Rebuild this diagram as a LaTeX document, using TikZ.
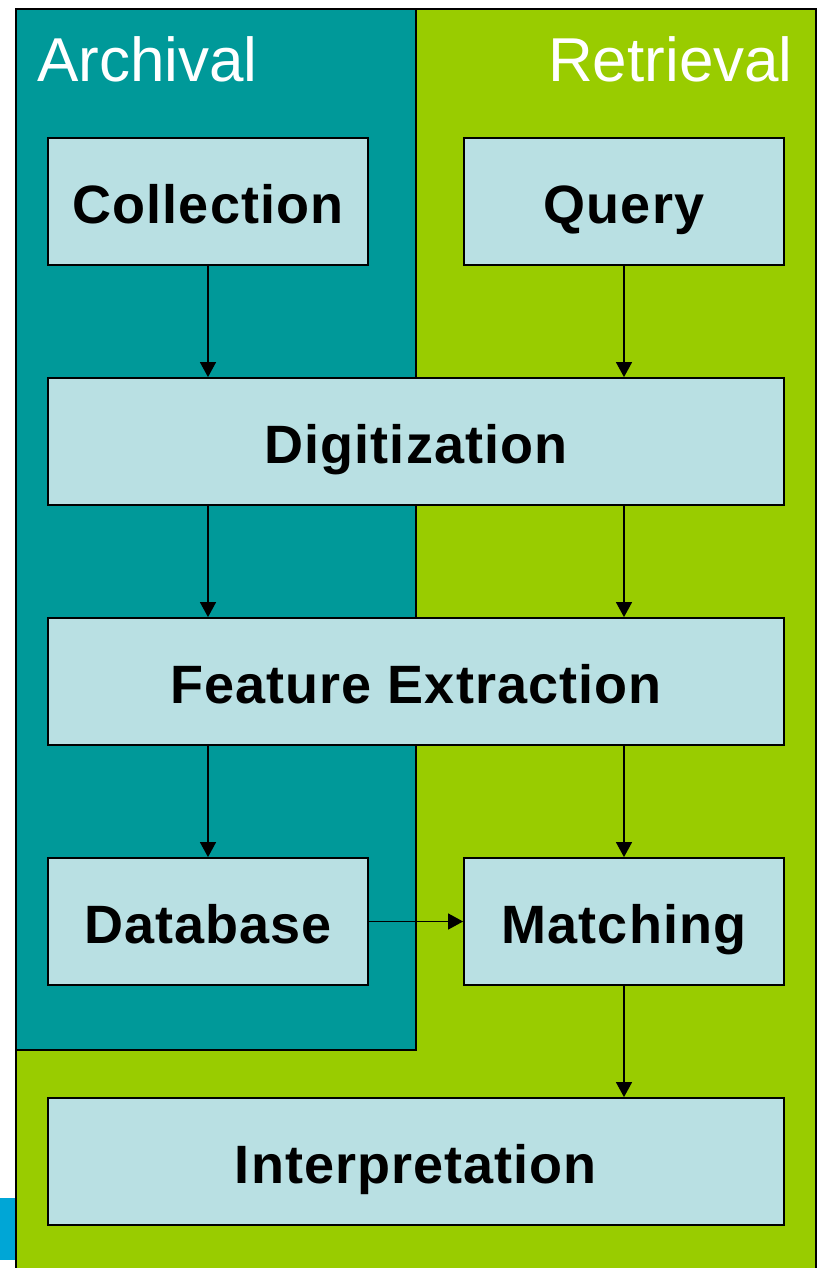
\documentclass[tikz,border=0pt]{standalone}
\usepackage{fontspec}
\setmainfont{Liberation Sans}
\usetikzlibrary{arrows.meta}
\definecolor{teal1}{HTML}{009999}
\definecolor{green1}{HTML}{99CC00}
\definecolor{boxfill}{HTML}{B9E0E3}
\definecolor{blue1}{HTML}{00A6D6}
\tikzset{
  stepbox/.style={draw=black, line width=1.8pt, fill=boxfill, inner sep=0pt,
    text height=43pt, text depth=0pt,
    font=\fontsize{54}{60}\selectfont\bfseries\addfontfeatures{LetterSpace=2}},
  conn/.style={line width=1.3pt, -{Triangle[length=15pt,width=16pt]}},
  paneltitle/.style={text=white, font=\fontsize{62}{70}\selectfont, inner sep=0pt}
}
\begin{document}
\begin{tikzpicture}[x=1pt,y=-1pt]
\useasboundingbox (0,0) rectangle (818,1268);
\clip (0,0) rectangle (818,1268);
\fill[blue1] (0,1198) rectangle (15,1260);
\draw[fill=green1, line width=1.6pt] (16,9) rectangle (816,1290);
\draw[fill=teal1, line width=1.6pt] (16,9) rectangle (416,1050);
\node[paneltitle, anchor=base west] (arch) at (37,82) {Archival};
\node[paneltitle, anchor=base east] (retr) at (793,82) {Retrieval};
\node[stepbox, minimum width=320pt, minimum height=127pt] (coll) at (208,201.5) {Collection};
\node[stepbox, minimum width=320pt, minimum height=127pt] (query) at (624,201.5) {Query};
\node[stepbox, minimum width=736pt, minimum height=127pt] (digi) at (416,441.5) {Digitization};
\node[stepbox, minimum width=736pt, minimum height=127pt] (feat) at (416,681.5) {Feature Extraction};
\node[stepbox, minimum width=320pt, minimum height=127pt] (db) at (208,921.5) {Database};
\node[stepbox, minimum width=320pt, minimum height=127pt] (match) at (624,921.5) {Matching};
\node[stepbox, minimum width=736pt, minimum height=127pt] (interp) at (416,1161.5) {Interpretation};
\draw[conn] (coll.south) -- (coll.south |- digi.north);
\draw[conn] (query.south) -- (query.south |- digi.north);
\draw[conn] (coll.south |- digi.south) -- (coll.south |- feat.north);
\draw[conn] (query.south |- digi.south) -- (query.south |- feat.north);
\draw[conn] (db.north |- feat.south) -- (db.north);
\draw[conn] (match.north |- feat.south) -- (match.north);
\draw[conn] (db.east) -- (match.west);
\draw[conn] (match.south) -- (match.south |- interp.north);
\end{tikzpicture}
\end{document}
